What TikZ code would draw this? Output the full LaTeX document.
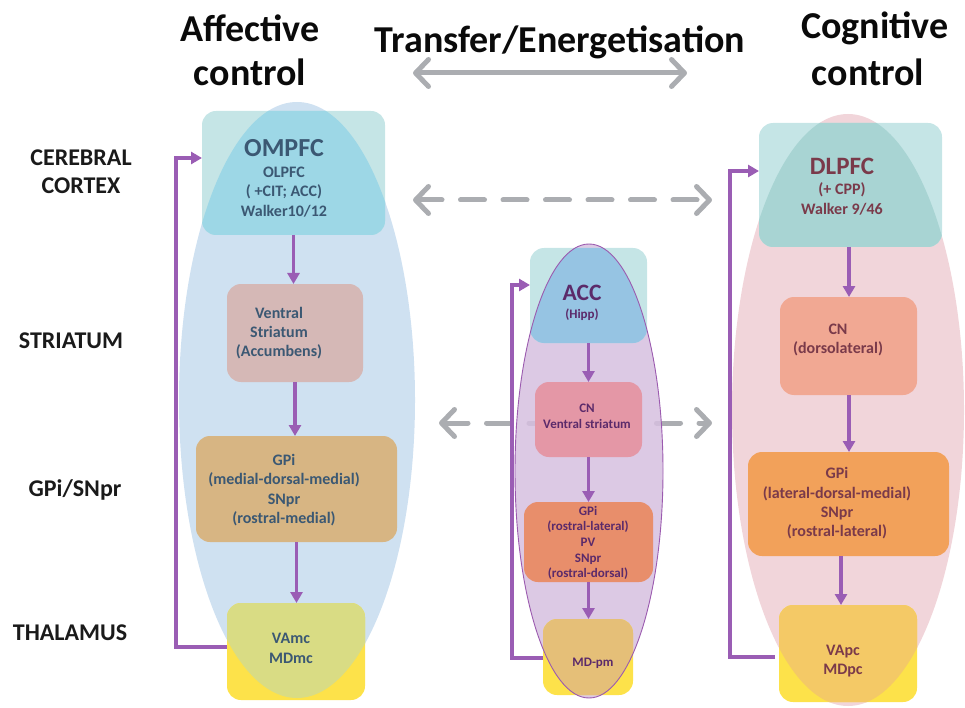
\documentclass[tikz,border=0pt]{standalone}
\usepackage{fontspec}
\setmainfont{Carlito}
\usetikzlibrary{arrows.meta,shapes.geometric}
\definecolor{titleblack}{HTML}{0A0A0A}
\definecolor{rowblack}{HTML}{1A1A1A}
\definecolor{ellA}{HTML}{CFE1F1}
\definecolor{ellB}{HTML}{D6BFDF}
\definecolor{ellBline}{HTML}{9B5AAF}
\definecolor{ellC}{HTML}{F1D5DA}
\definecolor{teal}{HTML}{C5E5E6}
\definecolor{ovA}{HTML}{9DD7E6}
\definecolor{ovB}{HTML}{96C4E3}
\definecolor{ovC}{HTML}{A8D4D3}
\definecolor{yel}{HTML}{FDE24A}
\definecolor{ovYA}{HTML}{D9DC84}
\definecolor{ovYB}{HTML}{E5BF78}
\definecolor{ovYC}{HTML}{F4C966}
\definecolor{vsA}{HTML}{D5B8B6}
\definecolor{gpA}{HTML}{D7B583}
\definecolor{cnB}{HTML}{E497A6}
\definecolor{gpB}{HTML}{E88E6B}
\definecolor{cnC}{HTML}{F1A893}
\definecolor{gpC}{HTML}{F2A15A}
\definecolor{txA}{HTML}{3B5873}
\definecolor{txB}{HTML}{5B2A6A}
\definecolor{txC}{HTML}{7A3A4A}
\definecolor{purp}{HTML}{9A5DB4}
\definecolor{grayarr}{HTML}{ABADB1}
\begin{document}
\begin{tikzpicture}[x=1pt,y=-1pt,
  box/.style={rectangle, rounded corners=14pt, inner sep=0pt, outer sep=0pt, draw=none},
  ell/.style={ellipse, inner sep=0pt, outer sep=0pt, draw=none},
  parrow/.style={draw=purp, line width=3.2pt, -{Triangle[length=11pt,width=12pt]}},
  ploop/.style={parrow, line join=miter},
  garrow/.style={draw=grayarr, line width=5pt, line cap=round,
     {Straight Barb[length=13pt,width=27pt,line cap=round,round]}-{Straight Barb[length=13pt,width=27pt,line cap=round,round]}},
  gdash/.style={garrow, dash pattern=on 24pt off 18.5pt},
  ttl/.style={font=\fontsize{38}{43}\selectfont\bfseries, text=titleblack, inner sep=0pt, align=center},
  rowl/.style={font=\fontsize{24}{28}\selectfont\bfseries, text=rowblack, inner sep=0pt, align=center},
  big/.style={font=\fontsize{26}{30}\selectfont\bfseries, inner sep=0pt},
  txt/.style={font=\fontsize{16}{19.3}\selectfont\bfseries, inner sep=0pt, align=center},
  sml/.style={font=\fontsize{13}{15.6}\selectfont\bfseries, inner sep=0pt, align=center}
]
\useasboundingbox (0,0) rectangle (965,708);

% ---------- titles ----------
\node[ttl] (tAff) at (250,72) {control};
\node[ttl] (tAff1) at (250,28) {Affective};
\node[ttl] (tTr) at (560,42) {Transfer/Energetisation};
\node[ttl] (tCog1) at (875,28) {Cognitive};
\node[ttl] (tCog) at (868,72) {control};

% ---------- row labels ----------
\node[rowl] (rCC) at (81,172) {CEREBRAL\\CORTEX};
\node[rowl] (rST) at (71,341) {STRIATUM};
\node[rowl] (rGP) at (75,490) {GPi/SNpr};
\node[rowl] (rTH) at (70,633) {THALAMUS};

% ---------- gray arrows ----------
\coordinate (gTL) at (413,73);
\coordinate (gTR) at (687,73);
\coordinate (gDL) at (413,200);
\coordinate (gDR) at (712,200);
\coordinate (gLL) at (439,423);
\coordinate (gLR) at (712,423);
\draw[garrow] (gTL) -- (gTR);
\draw[gdash] (gDL) -- (gDR);
\draw[gdash] (gLL) -- (gLR);

% ---------- column A (affective) ----------
\node[ell, fill=ellA, minimum width=236pt, minimum height=596pt] (elA) at (297,400) {};
\node[box, fill=teal, minimum width=183pt, minimum height=124pt] (ompfc) at (293.5,173) {};
\begin{scope}
  \clip[rounded corners=14pt] (ompfc.south west) rectangle (ompfc.north east);
  \fill[ovA] (297,400) ellipse [x radius=118, y radius=298];
\end{scope}
\node[box, fill=vsA, minimum width=136pt, minimum height=98pt] (vs) at (295,333) {};
\node[box, fill=gpA, minimum width=201pt, minimum height=106pt] (gpiA) at (296.5,489) {};
\node[box, fill=yel, minimum width=138pt, minimum height=97pt] (vamc) at (296,651.5) {};
\begin{scope}
  \clip[rounded corners=14pt] (vamc.south west) rectangle (vamc.north east);
  \fill[ovYA] (297,400) ellipse [x radius=118, y radius=298];
\end{scope}

% ---------- column B (middle) ----------
\node[ell, fill=ellB, fill opacity=0.85, minimum width=148pt, minimum height=454pt] (elB) at (589,471) {};
\node[box, fill=teal, minimum width=117pt, minimum height=95pt] (acc) at (588.5,295.5) {};
\begin{scope}
  \clip[rounded corners=14pt] (acc.south west) rectangle (acc.north east);
  \fill[ovB] (589,471) ellipse [x radius=74, y radius=227];
\end{scope}
\node[box, fill=cnB, minimum width=107pt, minimum height=75pt] (cnBn) at (588.5,419.5) {};
\node[box, fill=gpB, minimum width=129pt, minimum height=80pt] (gpiB) at (588.5,542) {};
\node[box, fill=yel, minimum width=90pt, minimum height=76pt] (mdpm) at (588,657) {};
\begin{scope}
  \clip[rounded corners=14pt] (mdpm.south west) rectangle (mdpm.north east);
  \fill[ovYB] (589,471) ellipse [x radius=74, y radius=227];
\end{scope}
\draw[ellBline, line width=0.9pt] (589,471) ellipse [x radius=74, y radius=227];

% ---------- column C (cognitive) ----------
\node[ell, fill=ellC, minimum width=232pt, minimum height=592pt] (elC) at (848,410) {};
\node[box, fill=teal, minimum width=183pt, minimum height=124pt] (dlpfc) at (850.5,185) {};
\begin{scope}
  \clip[rounded corners=14pt] (dlpfc.south west) rectangle (dlpfc.north east);
  \fill[ovC] (848,410) ellipse [x radius=116, y radius=296];
\end{scope}
\node[box, fill=cnC, minimum width=137pt, minimum height=98pt] (cnCn) at (848.5,346) {};
\node[box, fill=gpC, minimum width=201pt, minimum height=104pt] (gpiC) at (848.5,504) {};
\node[box, fill=yel, minimum width=138pt, minimum height=97pt] (vapc) at (848,653.5) {};
\begin{scope}
  \clip[rounded corners=14pt] (vapc.south west) rectangle (vapc.north east);
  \fill[ovYC] (848,410) ellipse [x radius=116, y radius=296];
\end{scope}

% ---------- purple arrows ----------
\draw[parrow] (ompfc.south) -- (ompfc.south |- vs.north);
\draw[parrow] (vs.south) -- (vs.south |- gpiA.north);
\draw[parrow] (gpiA.south) -- (gpiA.south |- vamc.north);
\coordinate (lAb) at (176,647);
\coordinate (lAt) at (176,158);
\draw[ploop] (vamc.west |- lAb) -- (lAb) -- (lAt) -- (ompfc.west |- lAt);

\draw[parrow] (acc.south) -- (acc.south |- cnBn.north);
\draw[parrow] (cnBn.south) -- (cnBn.south |- gpiB.north);
\draw[parrow] (gpiB.south) -- (gpiB.south |- mdpm.north);
\coordinate (lBb) at (512,658);
\coordinate (lBt) at (512,285);
\draw[ploop] (mdpm.west |- lBb) -- (lBb) -- (lBt) -- (acc.west |- lBt);

\coordinate (aC1) at (849,0);
\coordinate (aC3) at (841,0);
\draw[parrow] (dlpfc.south -| aC1) -- (cnCn.north -| aC1);
\draw[parrow] (cnCn.south -| aC1) -- (gpiC.north -| aC1);
\draw[parrow] (gpiC.south -| aC3) -- (vapc.north -| aC3);
\coordinate (lCb) at (730,657);
\coordinate (lCt) at (730,171);
\draw[ploop] ([xshift=-4pt]vapc.west |- lCb) -- (lCb) -- (lCt) -- (dlpfc.west |- lCt);

% ---------- texts column A ----------
\node[big, text=txA] (xOMPFC) at (284,148) {OMPFC};
\node[txt, text=txA] (xOLPFC) at (284,192) {OLPFC\\( +CIT; ACC)\\Walker10/12};
\node[txt, text=txA] (xVS) at (279,333) {Ventral\\Striatum\\(Accumbens)};
\node[txt, text=txA] (xGPA) at (284,490) {GPi\\(medial-dorsal-medial)\\SNpr\\(rostral-medial)};
\node[txt, text=txA] (xVA) at (291,648.5) {VAmc\\MDmc};

% ---------- texts column B ----------
\node[font=\fontsize{23.5}{27}\selectfont\bfseries, inner sep=0pt, text=txB] (xACC) at (582,293) {ACC};
\node[sml, text=txB] (xHipp) at (582,315) {(Hipp)};
\node[sml, text=txB] (xCNB) at (587,416) {CN\\Ventral striatum};
\node[sml, text=txB] (xGPB) at (588,543) {GPi\\(rostral-lateral)\\PV\\SNpr\\(rostral-dorsal)};
\node[sml, text=txB] (xMD) at (593,663) {MD-pm};

% ---------- texts column C ----------
\node[font=\fontsize{25}{29}\selectfont\bfseries, inner sep=0pt, text=txC] (xDL) at (842,166) {DLPFC};
\node[txt, text=txC] (xCPP) at (842,199) {(+ CPP)\\Walker 9/46};
\node[txt, text=txC] (xCNC) at (838,340) {CN\\(dorsolateral)};
\node[txt, text=txC] (xGPC) at (837,503.5) {GPi\\(lateral-dorsal-medial)\\SNpr\\(rostral-lateral)};
\node[txt, text=txC] (xVP) at (843,661) {VApc\\MDpc};
\end{tikzpicture}
\end{document}
